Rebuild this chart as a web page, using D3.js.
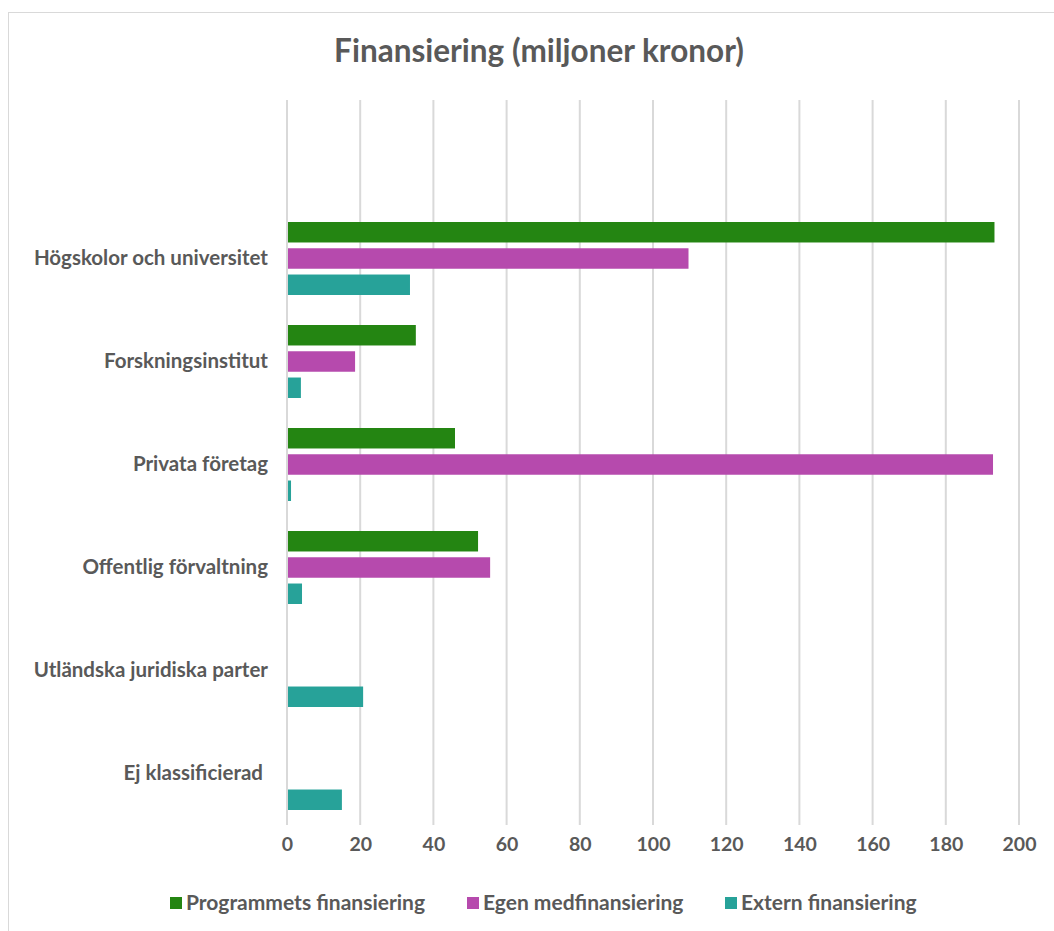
<!DOCTYPE html>
<html>
<head>
<meta charset="utf-8">
<script src="https://cdn.jsdelivr.net/npm/d3@7"></script>
<style>
  body { margin: 0; background: #fff; }
  text { fill: #595959; }
</style>
</head>
<body>
<div id="chart"></div>
<script>
// categories top to bottom; first one is an empty row in the source sheet
const categories = ["", "Högskolor och universitet", "Forskningsinstitut", "Privata företag",
    "Offentlig förvaltning", "Utländska juridiska parter", "Ej klassificierad "];
const seriesNames = ["Programmets finansiering", "Egen medfinansiering", "Extern finansiering"];
const programmets = [0, 193.3, 35.2, 45.9, 52.2, 0, 0];
const egen = [0, 109.7, 18.6, 192.9, 55.5, 0, 0];
const extern = [0, 33.6, 3.8, 1.1, 4.1, 20.8, 15.0];
const xTicks = [0, 20, 40, 60, 80, 100, 120, 140, 160, 180, 200];
const colors = ["#248512", "#b64aad", "#27a299"];

const seriesValues = [programmets, egen, extern];

const W = 1054, H = 931;
const svg = d3.select("#chart").append("svg").attr("width", W).attr("height", H);

svg.append("rect")
    .attr("x", 8.5).attr("y", 12.5)
    .attr("width", W + 10).attr("height", H)
    .attr("fill", "#fff")
    .attr("stroke", "#d9d9d9");

const margin = { top: 104, left: 287, right: 35, bottom: 106 };
const width = W - margin.left - margin.right;
const height = H - margin.top - margin.bottom;
const g = svg.append("g").attr("transform", `translate(${margin.left},${margin.top})`);

const groupH = 73;
const x = d3.scaleLinear().domain([0, 200]).range([0, width]);
const y = d3.scaleBand().domain(categories).range([0, height]).paddingInner(0).paddingOuter(0);
const inner = d3.scaleBand().domain(seriesNames).range([0, groupH]).paddingInner(0.22);

// grid
g.selectAll(".grid")
    .data(xTicks)
    .enter().append("line")
    .attr("class", "grid")
    .attr("x1", d => x(d)).attr("x2", d => x(d))
    .attr("y1", -4).attr("y2", height)
    .attr("stroke", "#d9d9d9")
    .attr("stroke-width", 2);

// bars
seriesNames.forEach((s, si) => {
    g.selectAll(".bar" + si)
        .data(categories.map((c, i) => ({ c, v: seriesValues[si][i] })).filter(d => d.v > 0))
        .enter().append("rect")
        .attr("class", "bar" + si)
        .attr("x", x(0) + 1)
        .attr("y", d => y(d.c) + (y.bandwidth() - groupH) / 2 + inner(s))
        .attr("width", d => x(d.v) - x(0) - 1)
        .attr("height", inner.bandwidth())
        .attr("fill", colors[si]);
});

// category labels
const yAxis = g.append("g")
    .call(d3.axisLeft(y).tickSize(0).tickPadding(19));
yAxis.select(".domain").remove();
yAxis.selectAll("text")
    .style("font-family", "Lato, sans-serif")
    .style("font-weight", "700")
    .style("font-size", "20.5px")
    .style("white-space", "pre")
    .style("fill", "#595959");

// x axis labels
const xAxis = g.append("g")
    .attr("transform", `translate(0,${height})`)
    .call(d3.axisBottom(x).tickValues(xTicks).tickSize(0).tickPadding(12));
xAxis.select(".domain").remove();
xAxis.selectAll("text")
    .style("font-family", "Lato, sans-serif")
    .style("font-weight", "700")
    .style("font-size", "19.5px")
    .style("fill", "#595959");

// title
svg.append("text")
    .attr("x", 539).attr("y", 62)
    .attr("text-anchor", "middle")
    .style("font-family", "Lato, sans-serif")
    .style("font-weight", "700")
    .style("font-size", "31.5px")
    .text("Finansiering (miljoner kronor)");

// legend
const legendX = [170, 467, 725];
const legend = svg.append("g").attr("transform", "translate(0,903)");
seriesNames.forEach((s, i) => {
    const lg = legend.append("g").attr("transform", `translate(${legendX[i]},0)`);
    lg.append("rect").attr("x", 0).attr("y", -6).attr("width", 12).attr("height", 12).attr("fill", colors[i]);
    lg.append("text").attr("x", 16).attr("y", 0).attr("dy", "0.35em")
        .style("font-family", "Lato, sans-serif")
        .style("font-weight", "700")
        .style("font-size", "21px")
        .text(s);
});
</script>
</body>
</html>
